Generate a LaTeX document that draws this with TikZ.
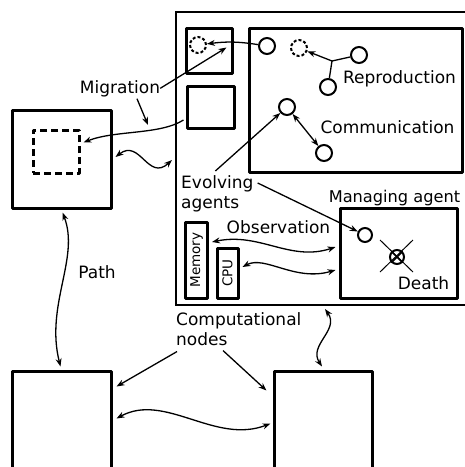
\documentclass[tikz,border=0pt]{standalone}
\usepackage{fontspec}
\setmainfont{DejaVu Sans}
\usetikzlibrary{arrows.meta, positioning, calc}

\tikzset{
  lbl/.style={font=\fontsize{17}{20}\selectfont, inner sep=0pt, align=left},
  hwlbl/.style={font=\fontsize{13.5}{16}\selectfont, rotate=90},
  hostbox/.style={draw, line width=3pt, line join=round, inner sep=0pt},
  sitebox/.style={draw, line width=2pt, inner sep=0pt},
  agent/.style={circle, draw, line width=2pt, minimum size=16pt, inner sep=0pt},
  ghost/.style={agent, dash pattern=on 3pt off 2pt},
  link/.style={-{Stealth[length=8pt,width=6pt]}, line width=1.3pt},
  twoway/.style={{Stealth[length=8pt,width=6pt]}-{Stealth[length=8pt,width=6pt]}, line width=1.3pt},
}

\begin{document}
\begin{tikzpicture}[x=1pt, y=-1pt]
\useasboundingbox (0,0) rectangle (465,467);
\clip (0,0) rectangle (465,467);

% computational nodes
\node[sitebox, minimum width=314, minimum height=293] (site) at (333,158.5) {};
\node[hostbox, minimum width=99, minimum height=98] (west) at (61.5,159) {};
\node[hostbox, minimum width=99, minimum height=149] (southwest) at (61.5,445.5) {};
\node[hostbox, minimum width=98, minimum height=149] (southeast) at (323,445.5) {};
\node[hostbox, dash pattern=on 7pt off 4pt, minimum width=46, minimum height=43] (copy) at (56,151.5) {};

% inside the site
\node[hostbox, minimum width=46, minimum height=45] (slotA) at (209,50.5) {};
\node[hostbox, minimum width=47, minimum height=42] (slotB) at (210.5,107) {};
\node[hostbox, minimum width=213, minimum height=144] (arena) at (355.5,100) {};
\node[hostbox, minimum width=117, minimum height=90] (mgr) at (398.5,253) {};
\node[hostbox, hwlbl, minimum width=76, minimum height=22] (mem) at (196.5,260) {Memory};
\node[hostbox, hwlbl, minimum width=50, minimum height=21] (cpu) at (227.5,273) {CPU};

% agents
\node[ghost] (a1) at (198,45) {};
\node[agent] (a2) at (267,46) {};
\node[ghost] (a3) at (299,48) {};
\node[agent] (a4) at (359,55) {};
\node[agent] (a5) at (328,87) {};
\node[agent] (a6) at (287,107) {};
\node[agent] (a7) at (324,153) {};
\node[agent, minimum size=14pt] (m1) at (365,235) {};
\node[agent, minimum size=14pt] (m2) at (397,257) {};
\draw[line width=1.6pt] (m2.south west) -- (m2.north east) (m2.north west) -- (m2.south east);
\draw[line width=1pt] (380,240) -- (413,272) (413,240) -- (380,272);
\coordinate (j) at (332,61);

% labels
\node[lbl, anchor=base] (mig) at (120,93) {Migration};
\node[lbl, anchor=base] (repro) at (399.5,83) {Reproduction};
\node[lbl, anchor=base] (comm) at (387.5,133) {Communication};
\node[lbl, anchor=north west] (evo) at (181,175) {Evolving\\agents};
\node[lbl, anchor=base, font=\fontsize{16.2}{20}\selectfont] (manlbl) at (394.5,202) {Managing agent};
\node[lbl, anchor=base] (obs) at (278.5,233) {Observation};
\node[lbl, anchor=base] (death) at (423.5,289) {Death};
\node[lbl, anchor=base] (path) at (97,278) {Path};
\node[lbl, anchor=north west] (cn) at (176,312) {Computational\\nodes};

% connectors
\draw[link] (a2) to[bend right=8] (a1);
\draw[line width=1.3pt] (a4) -- (j) -- (a5);
\draw[link] (j) -- (a3);
\draw[twoway] (a6) -- (a7);
\draw[link] (mig.east) -- ($(slotA.east)+(-7,-3)$);
\draw[link] ($(mig.south)+(17,2)$) -- (148,125);
\draw[link] ($(slotB.west)+(-2,13)$) .. controls (160,135) and (115,130) .. ($(copy.east)+(3,-9)$);
\draw[twoway] ($(west.east)+(3,-2)$) .. controls (140,138) and (148,182) .. ($(site.west)+(-3,1.5)$);
\draw[link] ($(evo.north)+(-2,-4)$) -- (a6);
\draw[link] ($(evo.north east)+(4,8)$) -- (m1);
\draw[twoway] ($(mem.south)+(3,-18)$) .. controls (260,232) and (290,262) .. ($(mgr.west)+(-3,-6)$);
\draw[twoway] ($(cpu.south)+(3,-6)$) .. controls (265,255) and (295,282) .. ($(mgr.west)+(-3,17)$);
\draw[twoway] ($(west.south)+(1,3)$) .. controls (80,258) and (45,305) .. ($(southwest.north)+(-1,-3)$);
\draw[link] ($(cn.south west)+(1,6)$) -- ($(southwest.north east)+(4,17)$);
\draw[link] ($(cn.south west)+(47,5)$) -- ($(southeast.north west)+(-6,21)$);
\draw[twoway] ($(southwest.east)+(4,-27)$) .. controls (165,392) and (215,445) .. ($(southeast.west)+(-2,-22)$);
\draw[twoway] ($(site.south)+(-8,3)$) .. controls (340,330) and (308,345) .. ($(southeast.north)+(-1,-3)$);
\end{tikzpicture}
\end{document}
